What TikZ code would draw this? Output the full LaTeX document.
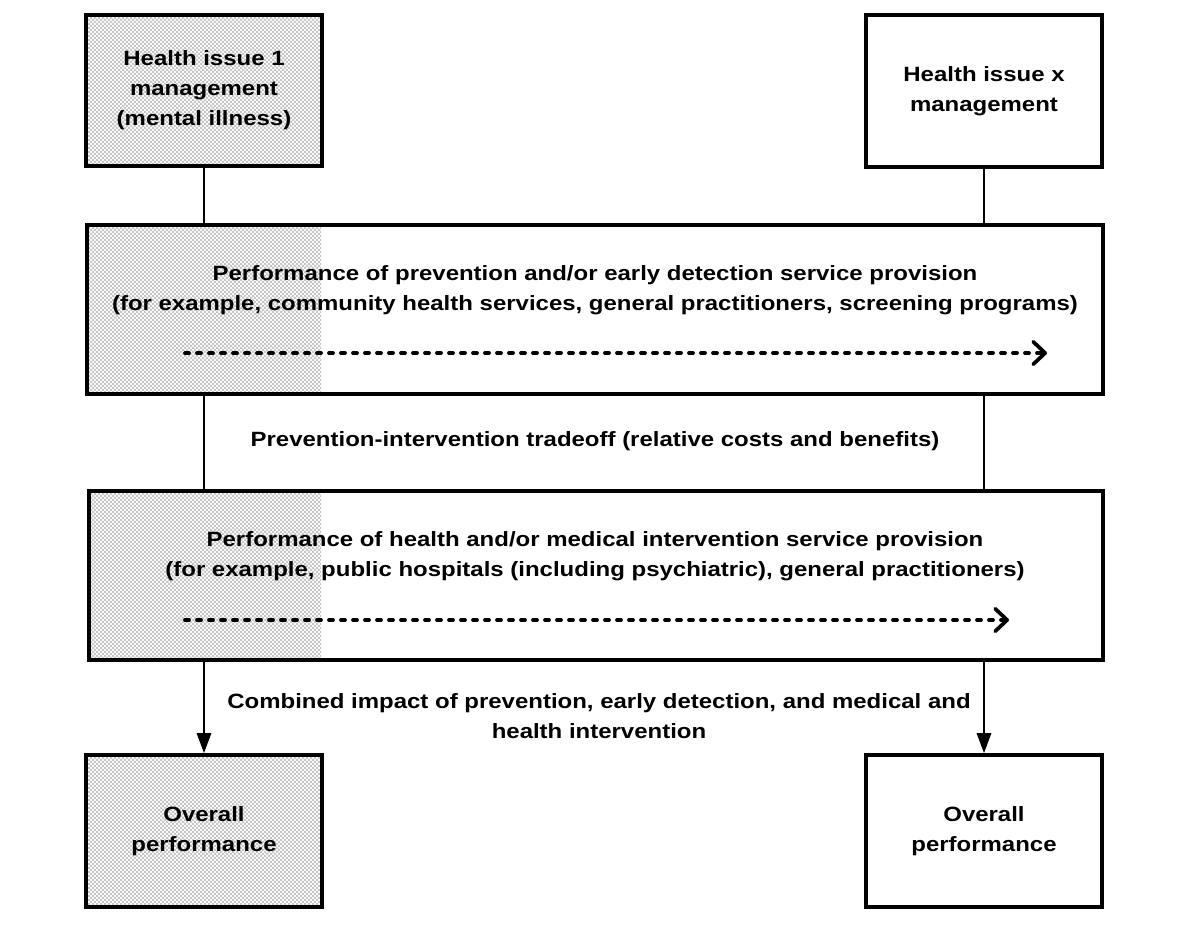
\documentclass[tikz,border=0pt]{standalone}
\usepackage{fontspec}
\setmainfont[FakeStretch=1.16]{Liberation Sans}
\usetikzlibrary{arrows.meta,patterns}

% grey stipple used for the mental illness column
\pgfdeclarepatternformonly{stipple}{\pgfqpoint{-0.1pt}{-0.1pt}}{\pgfqpoint{3.1pt}{3.1pt}}{\pgfqpoint{3pt}{3pt}}{%
  \pgfpathrectangle{\pgfqpoint{0pt}{0pt}}{\pgfqpoint{1.5pt}{1.5pt}}%
  \pgfpathrectangle{\pgfqpoint{1.5pt}{1.5pt}}{\pgfqpoint{1.5pt}{1.5pt}}%
  \pgfusepath{fill}}

\tikzset{
  box/.style={draw, line width=3pt, rectangle, inner sep=0pt, align=center,
    font=\bfseries\fontsize{15.5}{22.5}\selectfont},
  smallbox/.style={box, minimum width=177pt, minimum height=113.5pt},
  widebox/.style={box, minimum width=762pt, minimum height=126.75pt},
  stippled/.style={preaction={fill=white}, pattern=stipple, pattern color=gray!45},
  txt/.style={align=center, font=\bfseries\fontsize{15.5}{22.5}\selectfont},
  link/.style={line width=0.8pt},
  flow/.style={line width=2.8pt, line cap=round, dash pattern=on 3pt off 6pt,
    -{Straight Barb[length=9pt,width=17pt,line cap=round,line join=round]}},
}

\begin{document}
\begin{tikzpicture}[x=0.75pt,y=-0.75pt]
\useasboundingbox (0,0) rectangle (1179,925);

% shaded left parts of the two service-provision bands
\fill[stippled] (86,225) rectangle (321,394);
\fill[stippled] (88,491) rectangle (321,660);

% top row
\node[smallbox, stippled] (h1) at (204,90.5) {Health issue 1\\management\\(mental illness)};
\node[smallbox] (hx) at (984,91) {Health issue x\\management};

% prevention band
\node[widebox] (prev) at (594.5,309.5) {};
\node[txt] (prevtxt) at (595,290) {Performance of prevention and/or early detection service provision\\(for example, community health services, general practitioners, screening programs)};
\coordinate (p0) at (185,353);
\coordinate (p1) at (1047,353);
\draw[flow] (p0) -- (p1);

% intervention band
\node[widebox, minimum width=760.5pt] (intv) at (595.5,575.5) {};
\node[txt] (intvtxt) at (595,556) {Performance of health and/or medical intervention service provision\\(for example, public hospitals (including psychiatric), general practitioners)};
\coordinate (i0) at (185,620);
\coordinate (i1) at (1009,620);
\draw[flow] (i0) -- (i1);

% bottom row
\node[smallbox, minimum height=114pt, stippled] (o1) at (204,831) {Overall\\performance};
\node[smallbox, minimum height=114pt] (ox) at (984,831) {Overall\\performance};

% labels between the bands
\node[txt] (tradeoff) at (595,441) {Prevention-intervention tradeoff (relative costs and benefits)};
\node[txt] (combined) at (599,716) {Combined impact of prevention, early detection, and medical and\\health intervention};

% vertical links
\draw[link] (h1.south) -- (h1.south |- prev.north);
\draw[link] (hx.south) -- (hx.south |- prev.north);
\draw[link] (h1.south |- prev.south) -- (h1.south |- intv.north);
\draw[link] (hx.south |- prev.south) -- (hx.south |- intv.north);
\draw[link, -{Triangle[length=15pt,width=11pt]}] (h1.south |- intv.south) -- (o1.north);
\draw[link, -{Triangle[length=15pt,width=11pt]}] (hx.south |- intv.south) -- (ox.north);
\end{tikzpicture}
\end{document}
